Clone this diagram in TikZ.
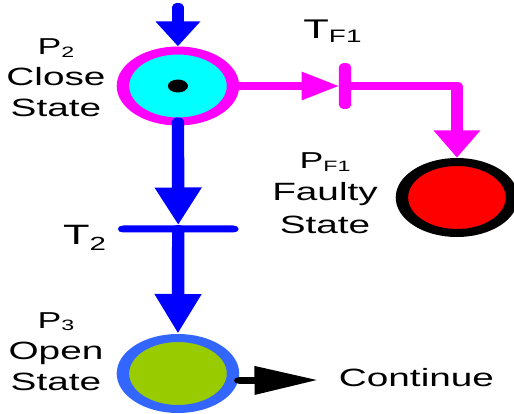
\documentclass[tikz,border=0pt]{standalone}
\usepackage{fontspec}
\setmainfont{Liberation Sans}
\usetikzlibrary{arrows.meta}
\definecolor{cMag}{HTML}{FF00FF}
\definecolor{cCyan}{HTML}{00FFFF}
\definecolor{cBlue}{HTML}{0000FF}
\definecolor{cRing}{HTML}{3366FF}
\definecolor{cOlive}{HTML}{99CC00}
\definecolor{cRed}{HTML}{FF0000}
\newcommand{\lowsub}[3]{\raisebox{-#1pt}{\fontsize{#2}{#2}\selectfont #3}}
\begin{document}
\begin{tikzpicture}[x=1pt,y=-1pt,
  place/.style={circle, line width=8pt, minimum size=71pt, inner sep=0pt},
  bar/.style={inner sep=0pt, outer sep=0pt},
  lbl/.style={align=center, inner sep=0pt, anchor=base},
  bshaft/.style={draw=cBlue, line width=8pt, line cap=round},
  mshaft/.style={draw=cMag, line width=8pt, line cap=round, line join=round},
  kshaft/.style={draw=black, line width=6.7pt, line cap=round}
]
\useasboundingbox (0,0) rectangle (514,414);
\begin{scope}[transform canvas={xscale=1.55}]
  % places
  \node[place, draw=cMag, fill=cCyan] (P2) at (114.8,86) {};
  \node[circle, fill=black, minimum size=13pt, inner sep=0pt] (tok) at (P2.center) {};
  \node[place, draw=cRing, fill=cOlive] (P3) at (114.8,373.5) {};
  \node[place, draw=black, fill=cRed] (PF1) at (294.8,197.5) {};
  % transitions
  \node[bar, fill=cBlue, minimum width=78pt, minimum height=7pt, rounded corners=3.5pt] (T2) at (115,229) {};
  \node[bar, fill=cMag, minimum width=8pt, minimum height=46pt, rounded corners=4pt] (TF1) at (222.6,86) {};
  % free ends
  \coordinate (src) at (114.8,7);
  \coordinate (contTip) at (205.2,380);
  % connectors
  \draw[bshaft, -{Triangle[length=25pt,width=27pt]}] (src) -- (P2.north);
  \draw[bshaft, -{Triangle[length=38pt,width=28pt]}] ([yshift=4pt]P2.south) -- (T2.north);
  \draw[bshaft, -{Triangle[length=40pt,width=28pt]}] (T2.center) -- (P3.north);
  \draw[mshaft, -{Triangle[length=24pt,width=27pt]}] (P2.east) -- (TF1.west);
  \draw[mshaft, -{Triangle[length=27.5pt,width=28pt]}] (TF1.center) -| (PF1.north);
  \draw[kshaft, -{Triangle[length=41pt,width=27pt]}] ([yshift=-7pt]P3.east) -- (contTip);
  % labels (base anchor = baseline of last line)
  \node[lbl, font=\fontsize{25}{31}\selectfont] (P2lbl) at (36.1,117)
    {{\fontsize{23}{31}\selectfont P\lowsub{2.6}{15}{2}}\\Close\\State};
  \node[lbl, font=\fontsize{25}{31}\selectfont] (P3lbl) at (36.1,390)
    {{\fontsize{23}{31}\selectfont P\lowsub{2.7}{15}{3}}\\Open\\State};
  \node[lbl, font=\fontsize{25}{32.5}\selectfont] (PF1lbl) at (209.7,233.3)
    {{\fontsize{23}{32.5}\selectfont P\lowsub{3.3}{15}{F1}}\\Faulty\\State};
  \node[lbl, font=\fontsize{28}{28}\selectfont] (T2lbl) at (54.5,244) {T\lowsub{6}{19}{2}};
  \node[lbl, font=\fontsize{27}{27}\selectfont] (TF1lbl) at (214.5,39) {T\lowsub{3.4}{18}{F1}};
  \node[lbl, font=\fontsize{25}{25}\selectfont] (cont) at (268.7,386.7) {Continue};
\end{scope}
\end{tikzpicture}
\end{document}
